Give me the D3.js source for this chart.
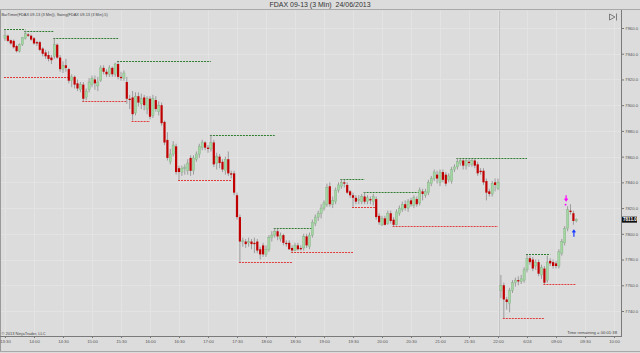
<!DOCTYPE html>
<html><head><meta charset="utf-8">
<script src="https://cdn.jsdelivr.net/npm/d3@7"></script>
<style>
html,body{margin:0;padding:0;background:#dcdcdc;}
svg{display:block;font-family:"Liberation Sans",Arial,sans-serif;}
</style></head><body>
<svg id="c" width="640" height="353"></svg>
<script>
const titleText = "FDAX 09-13 (3 Min)\u00a0 24/06/2013";
const indicatorText = "BarTimer(FDAX 09-13 (3 Min)), Swing(FDAX 09-13 (3 Min),5)";
const timeLabels = ["13:30","14:00","14:30","15:00","15:30","16:00","16:30","17:00","17:30","18:00","18:30","19:00","19:30","20:00","20:30","21:00","21:30","22:00","6/24","09:00","09:30","10:00"];
const timeTickIdx = [0,10,20,30,40,50,60,70,80,90,100,110,120,130,140,150,160,170,180,190,200,210];
const priceTicks = [7740,7760,7780,7800,7820,7840,7860,7880,7900,7920,7940,7960];

const opens = [7952,7954,7950.5,7950,7946,7942,7947,7952,7955,7954,
7952,7949,7949,7944,7941,7939,7937,7938,7947,7937,
7928,7931,7928,7919,7922,7917,7912,7916,7906,7912,
7916,7920,7915,7919,7929,7926,7924,7929,7924,7932,
7922,7921,7918,7905,7906,7894,7907,7901,7906,7897,
7905,7892,7904,7895,7900,7887,7873,7856,7862,7868,
7851,7848,7851,7849,7859,7849,7858,7862,7867,7871,
7867,7866,7871,7855,7860,7856,7849,7858,7847,7847,
7830,7813,7794,7794,7793,7794,7793,7794,7788,7791,
7784,7788,7797,7799,7802,7796,7799,7793,7793,7789,
7787,7791,7789,7789,7798,7790,7799,7808,7813,7816,
7820,7823,7837,7823,7825,7834,7837,7840,7838,7833,
7830,7828,7826,7825,7829,7825,7827,7825,7827,7814,
7807,7812,7808,7816,7811,7807,7816,7819,7823,7820,
7826,7822,7827,7824,7833,7830,7832,7839,7843,7846,
7840,7848,7846,7842,7841,7850,7852,7855,7857,7853,
7856,7854,7857,7854,7849,7849,7841,7833,7831,7840,
7835,7756,7760,7749,7746,7756,7762,7764,7763,7764,
7772,7781,7780,7775,7778,7768,7773,7764,7779,7778,
7777,7775,7785,7793,7804,7818,7816,7810];
const highs = [7959,7955,7951,7951,7947,7948,7953,7958,7956,7955,
7953,7950,7950,7945,7943,7942,7939,7952,7948,7939,
7934,7936,7929,7924,7923,7920,7918,7918,7913,7921,
7923,7923,7922,7931,7931,7928,7931,7930,7933,7934,
7926,7927,7922,7908,7911,7910,7910,7909,7908,7907,
7907,7908,7907,7903,7902,7888,7879,7866,7872,7870,
7853,7853,7854,7858,7861,7861,7864,7870,7873,7872,
7869,7877,7873,7863,7862,7858,7860,7864,7849,7849,
7832,7815,7797,7796,7797,7796,7797,7796,7790,7793,
7791,7799,7802,7804.5,7804,7801,7800,7795,7795,7791,
7793,7793,7791,7800,7800,7801,7811,7815,7818,7823,
7826,7839,7840,7829,7836,7840,7842.5,7842,7840,7834,
7832,7830,7830,7831,7832.5,7830,7829,7831,7829,7816,
7814,7814,7818,7818,7813,7819,7822,7825,7826,7827,
7828,7830,7829,7836,7835,7835,7842,7845,7850,7849,
7850,7850,7848,7847,7852,7854,7859,7858.5,7858,7858,
7858,7858,7858.5,7856,7851,7851,7843,7835,7841,7843,
7843,7768,7762,7751,7758,7764,7766,7767,7768,7774,
7784,7783,7782,7780,7780,7776,7775,7783,7781,7780,
7779,7788,7796,7806,7821.5,7823,7818,7812];
const lows = [7950,7949,7947,7944,7941,7941,7946,7951,7953,7950,
7947,7946,7942,7938,7936,7934,7932,7936,7936,7926,
7925,7926,7917,7914,7913,7911,7910,7903,7904,7910,
7914,7912,7911,7918,7924,7922,7922,7922,7922,7920,
7919,7919,7901,7897,7888,7892,7899,7897,7896,7893,
7889,7890,7895,7892,7884,7869,7857,7854,7860,7846,
7842,7845,7846,7846,7845,7846,7856,7859,7865,7865,
7863,7864,7852,7850,7851,7848,7846,7845,7843,7830,
7811,7778,7790,7789,7790,7788,7785,7785,7780,7782,
7782,7786,7794,7797,7795,7794,7791,7790,7787.5,7786,
7786.5,7787,7787,7787,7789,7788,7797,7806,7810,7812,
7818,7821,7821,7820,7823,7832,7835,7836,7831,7828,
7821,7823,7823,7823,7823,7823,7823,7822,7811,7807,
7806,7806.5,7807,7808,7806,7806.5,7814,7817,7818,7817,
7821,7820,7821,7822,7826,7828,7830,7837,7841,7839,
7837,7840,7837,7840,7839,7848,7850,7853,7850,7850,
7852,7852,7851,7845,7846,7838,7826,7829,7829,7833,
7834,7750,7734.5,7741,7739,7754,7759,7760,7761,7762,
7770,7776,7771,7772,7767,7765,7761,7762,7775,7773,
7773,7773,7783,7791,7802,7815,7807,7809];
const closes = [7954,7950,7948,7945,7942,7947,7952.5,7955.5,7954,7951,
7948,7948,7943,7940,7938,7936,7935,7947,7937,7928,
7931,7929,7919,7922,7916,7913,7916,7905,7911,7918,
7921,7917,7918,7929,7926,7924,7929,7924,7932,7922,
7921,7925,7905,7904,7893,7907,7902,7905,7900,7905,
7891,7905,7897,7900,7886,7871,7859,7862,7869,7848,
7848,7851,7851.5,7855,7849,7859,7862,7868,7871,7867,
7866,7871,7854,7860,7855,7850,7858,7847,7846,7832,
7813,7794,7794.5,7792,7794,7792,7792,7787,7784,7784,
7788,7797,7799,7802,7798,7799,7793,7792,7788,7787,
7791,7788,7788,7798,7791,7799,7809,7813,7816,7820,
7824,7836,7823,7826,7834,7838,7840,7839,7832,7830,
7828,7825,7827,7829,7825,7828,7826,7829,7813,7809,
7812,7807,7816,7810,7807,7817,7820,7823,7820,7825,
7823,7828,7823,7834,7831,7833,7840,7843,7848,7843,
7848,7842,7839,7845,7850,7852,7856,7857,7853,7857,
7855,7857,7853,7847,7848,7840,7832,7831,7839,7838,
7840,7760,7749,7747,7756,7762,7764,7763,7765,7772,
7781,7778,7773,7778,7769,7774,7762,7778,7777,7775,
7775,7786,7794,7804,7819,7817,7810,7811];

// swing lines: [startIndex, endIndex, price]
const swingHighs = [[0,7,7959],[7,17,7958],[17,39,7952],[39,71,7934],[71,93,7877],[93,106,7804.5],[116,124,7842.5],[124,143,7832.5],[156,180,7859],[180,188,7784]];
const swingLows = [[0,22,7922],[27,42,7903],[44,50,7888],[60,78,7842],[81,99,7778],[99,120,7786],[120,128,7821],[134,170,7806],[172,186,7734.5],[186,197,7761]];
const lastPrice = 7811.0;
const sessionBreak = 170.5;
const downArrowIdx = 194, upArrowIdx = 196;

const svg = d3.select("#c");
const W = 640, H = 353;
const plotRight = 621, plotTop = 10, plotBottom = 336;

const x = d3.scaleLinear().domain([0, 210]).range([5, 614]);
const y = d3.scaleLinear().domain([7740, 7960]).range([311, 28]);

svg.append("rect").attr("width", W).attr("height", H).attr("fill", "#dcdcdc");

// gridlines
const grid = svg.append("g").attr("stroke", "#e3e3e3").attr("stroke-width", 1);
grid.selectAll("line.h").data(priceTicks).join("line")
  .attr("x1", 1).attr("x2", plotRight).attr("y1", d => Math.round(y(d)) + 0.5).attr("y2", d => Math.round(y(d)) + 0.5);
grid.selectAll("line.v").data(timeTickIdx).join("line")
  .attr("y1", plotTop + 1).attr("y2", plotBottom).attr("x1", d => Math.round(x(d)) + 0.5).attr("x2", d => Math.round(x(d)) + 0.5);
svg.append("line").attr("x1", Math.round(x(sessionBreak)) + 0.5).attr("x2", Math.round(x(sessionBreak)) + 0.5)
  .attr("y1", plotTop + 1).attr("y2", plotBottom).attr("stroke", "#c4c4c4");

// frame
svg.append("line").attr("x1", 0).attr("x2", W).attr("y1", 9.5).attr("y2", 9.5).attr("stroke", "#a9a9a9");
svg.append("line").attr("x1", 0.5).attr("x2", 0.5).attr("y1", 10).attr("y2", 351).attr("stroke", "#9a9a9a");
svg.append("line").attr("x1", 0).attr("x2", W).attr("y1", 351.5).attr("y2", 351.5).attr("stroke", "#a9a9a9");

// title
svg.append("text").attr("x", 320).attr("y", 7).attr("text-anchor", "middle")
  .attr("font-size", 7).attr("fill", "#333").text(titleText);
svg.append("text").attr("x", 1.5).attr("y", 15.5).attr("font-size", 3.9).attr("fill", "#444").text(indicatorText);

// swing lines
const sw = svg.append("g").attr("stroke-width", 1).attr("stroke-dasharray", "2,1").attr("fill", "none");
sw.selectAll("line.sh").data(swingHighs).join("line")
  .attr("x1", d => x(d[0]) - 1).attr("x2", d => x(d[1]))
  .attr("y1", d => Math.round(y(d[2])) + 0.5).attr("y2", d => Math.round(y(d[2])) + 0.5).attr("stroke", "#2e7d2e");
sw.selectAll("line.sl").data(swingLows).join("line")
  .attr("x1", d => x(d[0]) - 1).attr("x2", d => x(d[1]))
  .attr("y1", d => Math.round(y(d[2])) + 0.5).attr("y2", d => Math.round(y(d[2])) + 0.5).attr("stroke", "#e03c3c");

// candles
const idx = d3.range(opens.length);
const cg = svg.append("g");
cg.selectAll("line.w").data(idx).join("line")
  .attr("x1", i => x(i)).attr("x2", i => x(i))
  .attr("y1", i => y(highs[i])).attr("y2", i => y(lows[i]))
  .attr("stroke", "#8c8c8c").attr("stroke-width", 0.8);
cg.selectAll("rect").data(idx).join("rect")
  .attr("x", i => x(i) - 1.1).attr("width", 2.2)
  .attr("y", i => y(Math.max(opens[i], closes[i])))
  .attr("height", i => Math.max(0.8, Math.abs(y(opens[i]) - y(closes[i]))))
  .attr("fill", i => closes[i] > opens[i] ? "#a4d6a4" : (closes[i] < opens[i] ? "#c00000" : "#888"))
  .attr("stroke", i => closes[i] > opens[i] ? "#7fae7f" : "none").attr("stroke-width", 0.4);

// markers
const xd = x(downArrowIdx) - 1.5, yd = y(highs[downArrowIdx]);
svg.append("path").attr("d", `M${xd},${yd-11} L${xd},${yd-6} M${xd-1.5},${yd-7.5} L${xd},${yd-5.5} L${xd+1.5},${yd-7.5}`)
  .attr("stroke", "#ff00ff").attr("stroke-width", 1.2).attr("fill", "none");
svg.append("circle").attr("cx", xd - 0.5).attr("cy", yd - 1.5).attr("r", 0.9).attr("fill", "#ff00ff");
const xu = x(upArrowIdx) + 0.5, yu = y(lows[upArrowIdx]);
svg.append("path").attr("d", `M${xu},${yu+12} L${xu},${yu+6} M${xu-1.5},${yu+7.5} L${xu},${yu+5.5} L${xu+1.5},${yu+7.5}`)
  .attr("stroke", "#1a3cff").attr("stroke-width", 1.2).attr("fill", "none");

// y axis
const ya = svg.append("g").attr("transform", `translate(${plotRight},0)`)
  .call(d3.axisRight(y).tickValues(priceTicks).tickSize(3).tickPadding(1).tickFormat(d3.format(".1f")));
ya.select(".domain").remove();
ya.selectAll("line").attr("stroke", "#777");
ya.selectAll("text").attr("font-size", 4.3).attr("fill", "#555").attr("font-family", "Liberation Sans, Arial, sans-serif");
svg.append("line").attr("x1", plotRight + 0.5).attr("x2", plotRight + 0.5).attr("y1", plotTop).attr("y2", plotBottom)
  .attr("stroke", "#7a7a7a");

// last price tag
svg.append("rect").attr("x", plotRight + 1).attr("y", y(lastPrice) - 3).attr("width", 15).attr("height", 6).attr("fill", "#111");
svg.append("text").attr("x", plotRight + 2).attr("y", y(lastPrice) + 1.6).attr("font-size", 4.6).attr("font-weight", "bold")
  .attr("fill", "#fff").text(lastPrice.toFixed(1));

// x axis
const xa = svg.append("g").attr("transform", `translate(0,${plotBottom})`)
  .call(d3.axisBottom(x).tickValues(timeTickIdx).tickSize(2).tickPadding(2).tickFormat((d, i) => timeLabels[i]));
xa.select(".domain").remove();
xa.selectAll("line").attr("stroke", "#777");
xa.selectAll("text").attr("font-size", 4.3).attr("fill", "#555").attr("font-family", "Liberation Sans, Arial, sans-serif");
svg.append("line").attr("x1", 0).attr("x2", plotRight + 1).attr("y1", plotBottom + 0.5).attr("y2", plotBottom + 0.5).attr("stroke", "#7a7a7a");

// footers
svg.append("text").attr("x", 1.5).attr("y", 335).attr("font-size", 4).attr("fill", "#444").text("© 2013 NinjaTrader, LLC");
svg.append("text").attr("x", 617).attr("y", 333.5).attr("text-anchor", "end").attr("font-size", 4.2).attr("fill", "#444").text("Time remaining = 00:01:38");

// scroll-to-end icon
svg.append("path").attr("d", "M609.5,14 L615,17 L609.5,20 Z M616.5,13.5 L616.5,20.5").attr("stroke", "#666").attr("stroke-width", 0.8).attr("fill", "none");
</script>
</body></html>
